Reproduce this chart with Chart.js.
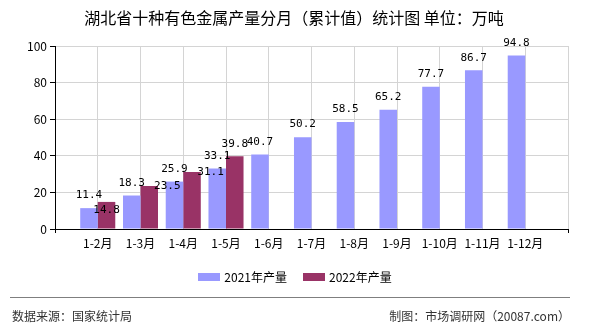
<!DOCTYPE html>
<html>
<head>
<meta charset="utf-8">
<title>湖北省十种有色金属产量分月（累计值）统计图</title>
<script src="https://cdn.jsdelivr.net/npm/chart.js@4.4.0/dist/chart.umd.min.js"></script>
<style>
  html, body { margin: 0; padding: 0; background: #fff; }
  #wrap { position: relative; width: 590px; height: 330px; overflow: hidden; font-family: "Noto Sans CJK SC", "Noto Sans", sans-serif; }
  #chart { position: absolute; left: 0; top: 0; }
  .title { position: absolute; left: 0; top: 7px; width: 588px; text-align: center; font-size: 16px; line-height: 20px; color: #000; white-space: nowrap; }
  #legend { position: absolute; left: 0; top: 269px; width: 590px; display: flex; justify-content: center; font-size: 12px; line-height: 16px; color: #000; }
  #legend .item { display: flex; align-items: center; margin: 0 8px; }
  #legend .box { width: 22px; height: 8px; margin-right: 4px; }
  .rule { position: absolute; left: 10px; top: 297px; width: 560px; height: 1px; background: #7f7f7f; }
  .foot { position: absolute; top: 308px; font-size: 12px; line-height: 16px; color: #333; white-space: nowrap; }
  .foot.left { left: 12px; }
  .foot.right { right: 20px; }
</style>
</head>
<body>
<div id="wrap">
  <canvas id="chart" width="590" height="330"></canvas>
  <div class="title">湖北省十种有色金属产量分月（累计值）统计图 单位：万吨</div>
  <div id="legend"></div>
  <div class="rule"></div>
  <div class="foot left">数据来源：国家统计局</div>
  <div class="foot right">制图：市场调研网（20087.com）</div>
</div>
<script>
const categories = ['1-2月', '1-3月', '1-4月', '1-5月', '1-6月', '1-7月', '1-8月', '1-9月', '1-10月', '1-11月', '1-12月'];
const output2021 = [11.4, 18.3, 25.9, 33.1, 40.7, 50.2, 58.5, 65.2, 77.7, 86.7, 94.8];
const output2022 = [14.8, 23.5, 31.1, 39.8];
const seriesNames = ['2021年产量', '2022年产量'];
const yTicks = [0, 20, 40, 60, 80, 100];

const colors = ['#9999ff', '#993366'];
const fontFamily = '"Noto Sans CJK SC", "Noto Sans", sans-serif';

// empty slot on each side so the axis runs half a step past the first and last month
const labels = ['', ...categories, ''];
const pad = arr => [null, ...categories.map((_, i) => (arr[i] === undefined ? null : arr[i])), null];

// value text above each bar; the second series gets a few nudges to stay clear of the first
const valueLabels = {
  id: 'valueLabels',
  afterDatasetsDraw(chart, args, opts) {
    const ctx = chart.ctx;
    ctx.save();
    ctx.font = opts.font;
    ctx.fillStyle = '#000';
    ctx.textAlign = 'center';
    ctx.textBaseline = 'middle';
    chart.data.datasets.forEach((ds, di) => {
      const meta = chart.getDatasetMeta(di);
      const nudges = opts.nudge[di] || [];
      meta.data.forEach((bar, i) => {
        const v = ds.data[i];
        if (v === null || v === undefined) return;
        const n = nudges[i - 1] || [0, 0];
        ctx.fillText(v.toFixed(1), bar.x + n[0], bar.y - opts.lift + n[1]);
      });
    });
    ctx.restore();
  }
};

const chart = new Chart(document.getElementById('chart').getContext('2d'), {
  type: 'bar',
  data: {
    labels: labels,
    datasets: [
      { label: seriesNames[0], data: pad(output2021), backgroundColor: colors[0] },
      { label: seriesNames[1], data: pad(output2022), backgroundColor: colors[1] }
    ]
  },
  options: {
    responsive: false,
    animation: false,
    datasets: { bar: { categoryPercentage: 0.82, barPercentage: 1 } },
    layout: { padding: { top: 46, right: 22, bottom: 81, left: 0 } },
    plugins: {
      legend: { display: false },
      tooltip: { enabled: false },
      valueLabels: {
        font: '11px "DejaVu Sans Mono", monospace',
        lift: 12.5,
        nudge: { 1: [[0, 21], [18, 12.5], [18.5, 12.5], [0, 0]] }
      }
    },
    scales: {
      x: {
        offset: false,
        grid: {
          offset: false,
          color: '#d4d4d4',
          tickLength: 4,
          tickColor: c => (c.index === 0 || c.index === labels.length - 1) ? '#000' : 'rgba(0,0,0,0)'
        },
        border: { color: '#000' },
        ticks: { color: '#000', font: { family: fontFamily, size: 12 }, padding: 3, maxRotation: 0, autoSkip: false },
        afterFit: s => { s.height = 20; }
      },
      y: {
        min: yTicks[0],
        max: yTicks[yTicks.length - 1],
        grid: { color: '#d4d4d4', tickLength: 5, tickColor: '#000' },
        border: { color: '#000' },
        ticks: { stepSize: yTicks[1] - yTicks[0], color: '#000', font: { family: fontFamily, size: 12 }, padding: 3 },
        afterFit: s => { s.width = 55; }
      }
    }
  },
  plugins: [valueLabels]
});

// legend built from the datasets
const legend = document.getElementById('legend');
chart.data.datasets.forEach(ds => {
  const item = document.createElement('div');
  item.className = 'item';
  const box = document.createElement('span');
  box.className = 'box';
  box.style.background = ds.backgroundColor;
  const text = document.createElement('span');
  text.textContent = ds.label;
  item.appendChild(box);
  item.appendChild(text);
  legend.appendChild(item);
});
</script>
</body>
</html>
